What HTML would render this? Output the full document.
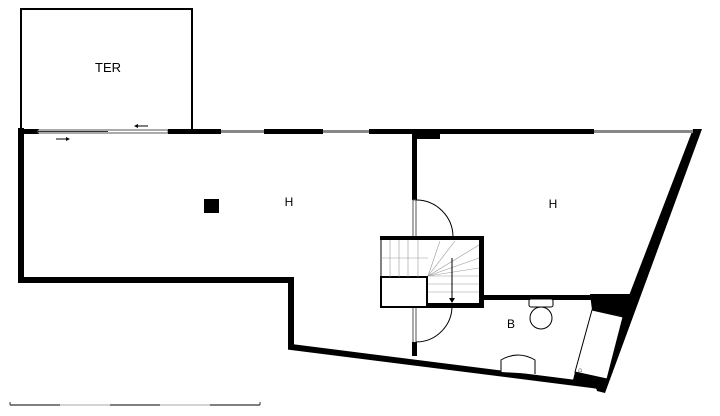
<!DOCTYPE html>
<html><head><meta charset="utf-8"><style>
html,body{margin:0;padding:0;background:#fff;width:720px;height:416px;overflow:hidden}
</style></head><body>
<svg width="720" height="416" viewBox="0 0 720 416" xmlns="http://www.w3.org/2000/svg" font-family="Liberation Sans, sans-serif">
<rect x="21" y="9" width="171" height="123" fill="none" stroke="#000" stroke-width="2"/>
<text x="108" y="72" font-size="13" text-anchor="middle">TER</text>
<polyline points="24,131 21,131 21,280 291,280 291,347 600,386" fill="none" stroke="#000" stroke-width="6" stroke-linejoin="miter"/>
<polygon points="693,129 702,129 605,393 597,391 595,384" fill="#000"/>
<rect x="21" y="129" width="18" height="5" fill="#000"/>
<rect x="38" y="130" width="130" height="3" fill="#fff" stroke="#555" stroke-width="1"/>
<line x1="38" y1="131.5" x2="108" y2="131.5" stroke="#333" stroke-width="1"/>
<rect x="168" y="129" width="53" height="5" fill="#000"/>
<rect x="221" y="130" width="43" height="3" fill="#888"/>
<rect x="264" y="129" width="59" height="5" fill="#000"/>
<rect x="323" y="130" width="46" height="3" fill="#888"/>
<rect x="369" y="129" width="225" height="5" fill="#000"/>
<rect x="594" y="130" width="99" height="3" fill="#888"/>
<rect x="414" y="129" width="26" height="10" fill="#000"/>
<line x1="136" y1="126" x2="148" y2="126" stroke="#000" stroke-width="1"/><polygon points="134,126 138,124 138,128" fill="#000"/>
<line x1="56" y1="139" x2="68" y2="139" stroke="#000" stroke-width="1"/><polygon points="70,139 66,137 66,141" fill="#000"/>
<rect x="412" y="134" width="5" height="66" fill="#000"/>
<rect x="413" y="200" width="3" height="37" fill="#fff" stroke="#555" stroke-width="1"/>
<path d="M416 200 A37 37 0 0 1 453 237 L416 237" fill="none" stroke="#000" stroke-width="1"/>
<rect x="413" y="306" width="3" height="37" fill="#fff" stroke="#555" stroke-width="1"/>
<path d="M416 342 A36 36 0 0 0 452 306" fill="none" stroke="#000" stroke-width="1"/>
<rect x="412" y="342" width="5" height="14" fill="#000"/>
<rect x="381" y="239" width="100" height="66" fill="none" stroke="#000" stroke-width="1"/>
<rect x="380" y="236" width="104" height="4" fill="#000"/>
<rect x="479" y="236" width="5" height="72" fill="#000"/>
<rect x="412" y="303" width="72" height="5" fill="#000"/>
<rect x="381" y="277" width="46" height="30" fill="#fff" stroke="#000" stroke-width="2"/>
<g stroke="#999" stroke-width="0.6">
<line x1="381" y1="258" x2="428" y2="258"/>
<line x1="390" y1="240" x2="390" y2="277"/><line x1="399" y1="240" x2="399" y2="277"/><line x1="408" y1="240" x2="408" y2="277"/><line x1="418" y1="240" x2="418" y2="277"/>
<line x1="428" y1="276" x2="440" y2="241"/><line x1="428" y1="276" x2="455" y2="241"/><line x1="428" y1="276" x2="479" y2="245"/><line x1="428" y1="276" x2="479" y2="258"/><line x1="428" y1="276" x2="479" y2="268"/>
<line x1="428" y1="284" x2="479" y2="284"/><line x1="428" y1="292" x2="479" y2="292"/><line x1="428" y1="276" x2="479" y2="276"/>
</g>
<line x1="452" y1="258" x2="452" y2="300" stroke="#000" stroke-width="1"/>
<polygon points="449,298 455,298 452,303" fill="#000"/>
<rect x="483" y="295" width="150" height="5" fill="#000"/>
<polygon points="590,294 637,294 630,318 592,310" fill="#000"/>
<polygon points="592,310 623,317 607,379 575,372" fill="#fff" stroke="#000" stroke-width="1"/>
<polygon points="575,372 607,379 603,390 572,384" fill="#000"/>
<text x="578" y="372" font-size="7">⌂</text>
<rect x="529" y="299" width="24" height="8" rx="2" fill="#fff" stroke="#000" stroke-width="1"/>
<ellipse cx="541" cy="318" rx="11" ry="11" fill="#fff" stroke="#000" stroke-width="1"/>
<path d="M501 372 L501 360 Q518 350 535 360 L535 374" fill="#fff" stroke="#000" stroke-width="1"/>
<rect x="204" y="199" width="15" height="14" fill="#000"/>
<text x="289" y="206" font-size="12" text-anchor="middle">H</text>
<text x="553" y="208" font-size="12" text-anchor="middle">H</text>
<text x="511" y="328" font-size="12" text-anchor="middle">B</text>
<line x1="10" y1="405" x2="60" y2="405" stroke="#333" stroke-width="1.2"/>
<line x1="60" y1="405" x2="110" y2="405" stroke="#bbb" stroke-width="1.2"/>
<line x1="110" y1="405" x2="160" y2="405" stroke="#333" stroke-width="1.2"/>
<line x1="160" y1="405" x2="210" y2="405" stroke="#bbb" stroke-width="1.2"/>
<line x1="210" y1="405" x2="260" y2="405" stroke="#333" stroke-width="1.2"/>
<line x1="10" y1="402" x2="10" y2="405" stroke="#333"/><line x1="260" y1="402" x2="260" y2="405" stroke="#333"/>
</svg>
</body></html>
